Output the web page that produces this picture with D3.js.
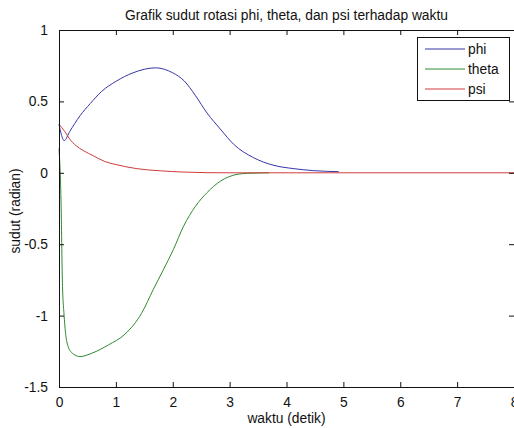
<!DOCTYPE html>
<html>
<head>
<meta charset="utf-8">
<script src="https://cdn.jsdelivr.net/npm/d3@7/dist/d3.min.js"></script>
<style>
  body { margin: 0; background: #fff; }
  svg { display: block; font-family: "Liberation Sans", Arial, sans-serif; }
</style>
</head>
<body>
<svg id="chart" width="514" height="428"></svg>
<script>
// values
var phiT   = [0, 0.04, 0.09, 0.19, 0.37, 0.55, 0.75, 1.0, 1.3, 1.7, 2.0, 2.2, 2.4, 2.6, 2.85, 3.07, 3.42, 3.78, 4.13, 4.48, 4.92];
var phiV   = [0.34, 0.27, 0.225, 0.29, 0.40, 0.485, 0.57, 0.64, 0.70, 0.735, 0.70, 0.644, 0.54, 0.42, 0.30, 0.20, 0.106, 0.052, 0.029, 0.015, 0.008];
var thetaT = [0, 0.035, 0.06, 0.09, 0.16, 0.25, 0.37, 0.58, 0.87, 1.16, 1.45, 1.66, 1.84, 2.01, 2.19, 2.40, 2.60, 2.84, 3.13, 3.31, 3.69];
var thetaV = [0.17, -0.19, -0.77, -1.0, -1.217, -1.268, -1.287, -1.263, -1.205, -1.13, -0.985, -0.815, -0.675, -0.538, -0.374, -0.234, -0.14, -0.058, -0.011, -0.004, 0];
var psiT   = [0, 0.1, 0.19, 0.3, 0.43, 0.6, 0.8, 1.02, 1.37, 1.78, 2.2, 2.6, 3.0, 8];
var psiV   = [0.34, 0.29, 0.235, 0.19, 0.155, 0.12, 0.08, 0.056, 0.029, 0.014, 0.005, 0.001, 0, 0];

var xTicks = [0, 1, 2, 3, 4, 5, 6, 7, 8];
var yTicks = [1, 0.5, 0, -0.5, -1, -1.5];
var names  = ["phi", "theta", "psi"];
var colors = ["#3535aa", "#2f8a2f", "#d03c3c"];

var svg = d3.select("#chart");
var mLeft = 59, mRight = 514, mTop = 30, mBottom = 387;
var fs = 13.8;

var x = d3.scaleLinear().domain([0, 8]).range([mLeft, mRight]);
var y = d3.scaleLinear().domain([-1.5, 1]).range([mBottom, mTop]);

var series = [
  {name: names[0], t: phiT, v: phiV},
  {name: names[1], t: thetaT, v: thetaV},
  {name: names[2], t: psiT, v: psiV}
];

var line = d3.line()
    .x(function(d) { return x(d[0]); })
    .y(function(d) { return y(d[1]); })
    .curve(d3.curveMonotoneX);

var g = svg.append("g");

// curves
g.selectAll("path.curve")
  .data(series)
  .enter().append("path")
    .attr("class", "curve")
    .attr("fill", "none")
    .attr("stroke", function(d, i) { return colors[i]; })
    .attr("stroke-width", 1)
    .attr("d", function(d) { return line(d.t.map(function(t, i) { return [t, d.v[i]]; })); });

// axes, ticks pointing inward like matlab
g.append("g")
    .attr("transform", "translate(0," + mBottom + ")")
    .call(d3.axisBottom(x).tickValues(xTicks).tickSizeInner(-5).tickSizeOuter(0).tickPadding(10).tickFormat(d3.format("d")));
g.append("g")
    .attr("transform", "translate(0," + mTop + ")")
    .call(d3.axisTop(x).tickValues(xTicks).tickSizeInner(-5).tickSizeOuter(0).tickFormat(""));
g.append("g")
    .attr("transform", "translate(" + mLeft + ",0)")
    .call(d3.axisLeft(y).tickValues(yTicks).tickSizeInner(-5).tickSizeOuter(0).tickPadding(11).tickFormat(function(d) { return d; }));
g.append("g")
    .attr("transform", "translate(" + mRight + ",0)")
    .call(d3.axisRight(y).tickValues(yTicks).tickSizeInner(-5).tickSizeOuter(0).tickFormat(""));

g.selectAll(".domain").attr("stroke", "#111");
g.selectAll(".tick line").attr("stroke", "#111");
g.selectAll(".tick text")
    .attr("font-family", "Liberation Sans, Arial, sans-serif")
    .attr("font-size", fs)
    .attr("fill", "#111");

// title and axis labels
svg.append("text")
    .attr("x", (mLeft + mRight) / 2)
    .attr("y", 20)
    .attr("text-anchor", "middle")
    .attr("font-size", fs)
    .attr("fill", "#111")
    .text("Grafik sudut rotasi phi, theta, dan psi terhadap waktu");

svg.append("text")
    .attr("x", (mLeft + mRight) / 2)
    .attr("y", 423)
    .attr("text-anchor", "middle")
    .attr("font-size", fs)
    .attr("fill", "#111")
    .text("waktu (detik)");

svg.append("text")
    .attr("transform", "translate(20," + 211 + ") rotate(-90)")
    .attr("text-anchor", "middle")
    .attr("font-size", fs)
    .attr("fill", "#111")
    .text("sudut (radian)");

// legend
var legend = svg.append("g").attr("transform", "translate(417,37)");
legend.append("rect")
    .attr("x", 0.5).attr("y", 0.5)
    .attr("width", 92).attr("height", 63)
    .attr("fill", "#fff")
    .attr("stroke", "#111");

var item = legend.selectAll("g.item")
  .data(names)
  .enter().append("g")
    .attr("class", "item")
    .attr("transform", function(d, i) { return "translate(0," + (12 + i * 20) + ")"; });

item.append("line")
    .attr("x1", 8).attr("x2", 48)
    .attr("y1", 0).attr("y2", 0)
    .attr("stroke", function(d, i) { return colors[i]; })
    .attr("stroke-width", 1);

item.append("text")
    .attr("x", 51)
    .attr("dy", "0.35em")
    .attr("font-size", fs)
    .attr("fill", "#111")
    .text(function(d) { return d; });
</script>
</body>
</html>
